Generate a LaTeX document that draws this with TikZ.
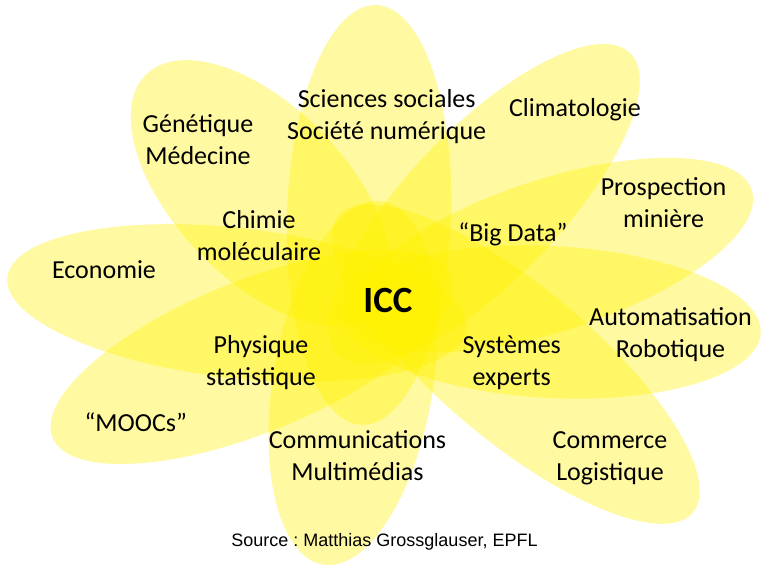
\documentclass[tikz,border=0pt]{standalone}
\usepackage{fontspec}
\setmainfont{Carlito}
\newfontfamily\srcfont{Liberation Sans}
\newcommand\twol[2]{\strut#1\\\strut#2}
\tikzset{
  petal/.style={fill=yellow, fill opacity=0.37, draw=none},
  lbl/.style={font=\fontsize{26}{32}\selectfont, align=center, inner sep=0pt, text=black},
}
\begin{document}
\begin{tikzpicture}[x=1pt,y=-1pt]
\useasboundingbox (0,0) rectangle (761,565);
\fill[white] (0,0) rectangle (761,565);
\clip (0,0) rectangle (761,565);
% petals
\fill[petal, rotate around={88:(369,215)}] (369,215) ellipse [x radius=210pt, y radius=82pt];
\fill[petal, rotate around={46:(484,204)}] (484,204) ellipse [x radius=210pt, y radius=76pt];
\fill[petal, rotate around={18:(552,255)}] (552,255) ellipse [x radius=210pt, y radius=76pt];
\fill[petal, rotate around={-3:(551,322)}] (551,322) ellipse [x radius=210pt, y radius=76pt];
\fill[petal, rotate around={-40:(516,364)}] (516,364) ellipse [x radius=231pt, y radius=77pt];
\fill[petal, rotate around={80.6:(353,383)}] (353,383) ellipse [x radius=184pt, y radius=80pt];
\fill[petal, rotate around={22:(252,357)}] (252,357) ellipse [x radius=215pt, y radius=76pt];
\fill[petal, rotate around={-6.4:(237,303)}] (237,303) ellipse [x radius=231pt, y radius=75pt];
\fill[petal, rotate around={-46:(261,193)}] (261,193) ellipse [x radius=165pt, y radius=86pt];
% labels
\node[lbl] (soc) at (386.7,116.6) {\twol{Sciences sociales}{Société numérique}};
\node[lbl] (gen) at (198,142.1) {\twol{Génétique}{Médecine}};
\node[lbl] (clim) at (575,110.3) {\strut Climatologie};
\node[lbl] (pros) at (663.5,204.6) {\twol{Prospection}{minière}};
\node[lbl] (chim) at (259,237.9) {\twol{Chimie}{moléculaire}};
\node[lbl] (big) at (513,235.3) {\strut “Big Data”};
\node[lbl] (eco) at (104,271.9) {\strut Economie};
\node[lbl] (auto) at (670.5,334.6) {\twol{Automatisation}{Robotique}};
\node[lbl] (phys) at (261,362.9) {\twol{Physique}{statistique}};
\node[lbl] (sys) at (511.7,362.9) {\twol{Systèmes}{experts}};
\node[lbl] (mooc) at (135.8,425.3) {\strut “MOOCs”};
\node[lbl] (comm) at (357.5,457.9) {\twol{Communications}{Multimédias}};
\node[lbl] (comr) at (610,457.9) {\twol{Commerce}{Logistique}};
\node[inner sep=0pt, anchor=base, font=\fontsize{37}{44}\selectfont\bfseries] (icc) at (388,312) {ICC};
\node[inner sep=0pt, anchor=base, font=\srcfont\fontsize{18}{22}\selectfont\frenchspacing] (src) at (384.5,546.7) {Source : Matthias Grossglauser, EPFL};
\end{tikzpicture}
\end{document}
